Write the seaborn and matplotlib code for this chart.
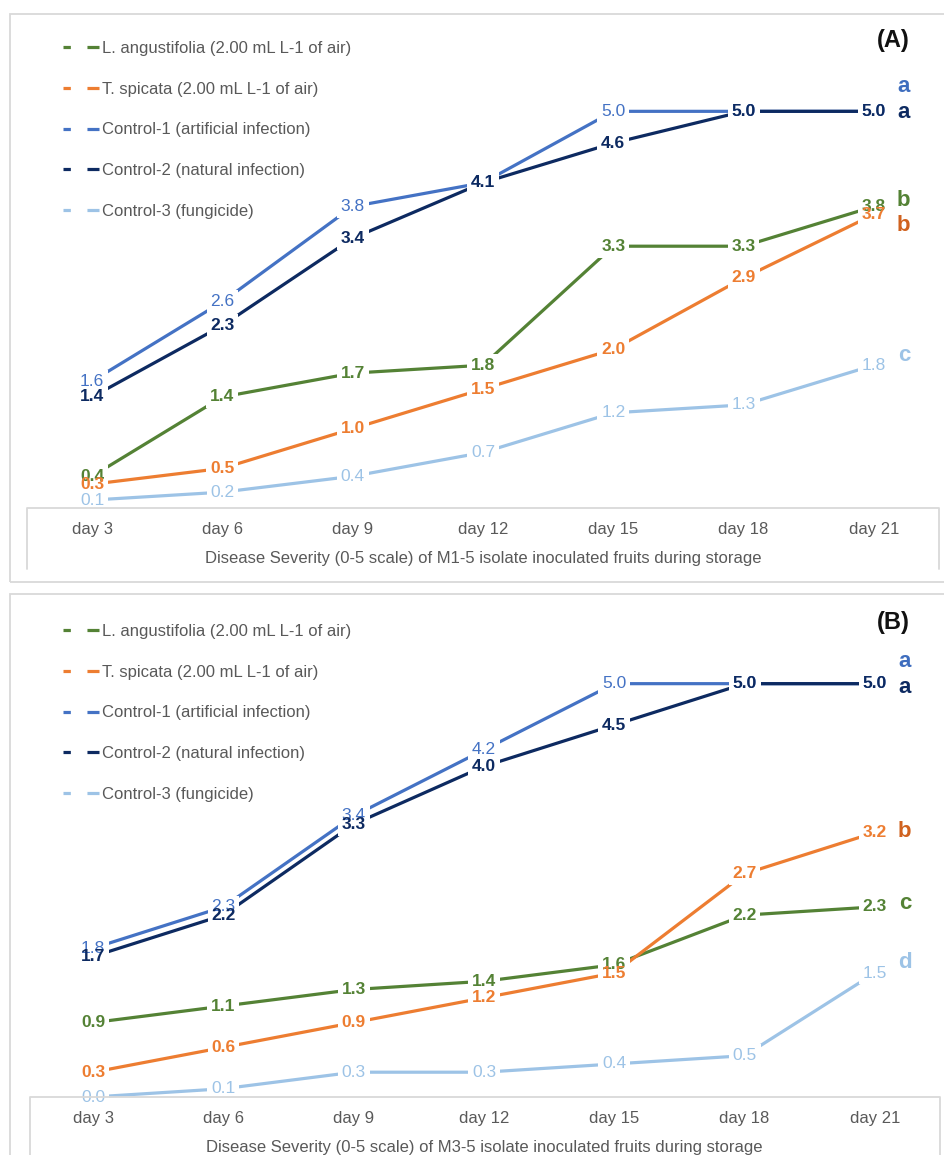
import matplotlib
matplotlib.use("Agg")
import matplotlib.pyplot as plt
from matplotlib.lines import Line2D
from matplotlib.patches import Rectangle
import numpy as np
import pandas as pd
import seaborn as sns

# ---- data -------------------------------------------------------------
days = ["day 3", "day 6", "day 9", "day 12", "day 15", "day 18", "day 21"]
treatments = [
    "L. angustifolia (2.00 mL L-1 of air)",
    "T. spicata (2.00 mL L-1 of air)",
    "Control-1 (artificial infection)",
    "Control-2 (natural infection)",
    "Control-3 (fungicide)",
]

# Panel A: M1-5 isolate
a_lavender = [0.4, 1.4, 1.7, 1.8, 3.3, 3.3, 3.8]
a_spicata = [0.3, 0.5, 1.0, 1.5, 2.0, 2.9, 3.7]
a_control1 = [1.6, 2.6, 3.8, 4.1, 5.0, 5.0, 5.0]
a_control2 = [1.4, 2.3, 3.4, 4.1, 4.6, 5.0, 5.0]
a_control3 = [0.1, 0.2, 0.4, 0.7, 1.2, 1.3, 1.8]
a_letters = ["b", "b", "a", "a", "c"]
a_letter_y = [3.87, 3.56, 5.31, 4.99, 1.92]

# Panel B: M3-5 isolate
b_lavender = [0.9, 1.1, 1.3, 1.4, 1.6, 2.2, 2.3]
b_spicata = [0.3, 0.6, 0.9, 1.2, 1.5, 2.7, 3.2]
b_control1 = [1.8, 2.3, 3.4, 4.2, 5.0, 5.0, 5.0]
b_control2 = [1.7, 2.2, 3.3, 4.0, 4.5, 5.0, 5.0]
b_control3 = [0.0, 0.1, 0.3, 0.3, 0.4, 0.5, 1.5]
b_letters = ["c", "b", "a", "a", "d"]
b_letter_y = [2.34, 3.21, 5.27, 4.95, 1.63]

xlabel_a = "Disease Severity (0-5 scale) of M1-5 isolate inoculated fruits during storage"
xlabel_b = "Disease Severity (0-5 scale) of M3-5 isolate inoculated fruits during storage"

# ---- style ------------------------------------------------------------
colors = ["#548235", "#ED7D31", "#4472C4", "#0D2A61", "#9DC3E6"]
letter_colors = ["#548235", "#D0621F", "#3E6DBE", "#0D2A61", "#9DC3E6"]
label_weights = ["bold", "bold", "normal", "bold", "normal"]
palette = dict(zip(treatments, colors))
grey_txt = "#595959"
frame_col = "#D9D9D9"
label_size = 12.5

sns.set_style("white")
plt.rcParams["font.family"] = ["Liberation Sans", "DejaVu Sans"]

W, H = 945, 1155
fig = plt.figure(figsize=(W / 100, H / 100), dpi=100)


def fx(px):
    return px / W


def fy(py):
    return 1 - py / H


def long_frame(series):
    rows = []
    for name, vals in zip(treatments, series):
        for d, v in zip(days, vals):
            rows.append({"day": d, "severity": v, "treatment": name})
    return pd.DataFrame(rows)


def fig_line(xs, ys):
    fig.add_artist(Line2D([fx(x) for x in xs], [fy(y) for y in ys],
                          transform=fig.transFigure, color=frame_col, lw=1.3))


def draw_panel(ax, series, letters, letter_y, xlabel, tag, tag_y, legend_top):
    df = long_frame(series)
    sns.lineplot(data=df, x="day", y="severity", hue="treatment",
                 hue_order=treatments, palette=palette, linewidth=2.3,
                 legend=False, sort=False, ax=ax)
    for ln in ax.lines:
        ln.set_clip_on(False)
        ln.set_solid_capstyle("butt")

    # white plates under every value label, then the labels themselves
    for vals in series:
        for i, v in enumerate(vals):
            ax.text(i, v, f"{v:.1f}", ha="center", va="center", fontsize=label_size,
                    color=(1, 1, 1, 0), zorder=5,
                    bbox=dict(boxstyle="square,pad=0.22", fc="white", ec="none"))
    for vals, c, w in zip(series, colors, label_weights):
        for i, v in enumerate(vals):
            ax.text(i, v, f"{v:.1f}", ha="center", va="center", fontsize=label_size,
                    color=c, fontweight=w, zorder=6)

    # significance letters at the right end
    for let, y, c in zip(letters, letter_y, letter_colors):
        ax.text(6.23, y, let, ha="center", va="center", fontsize=16,
                fontweight="bold", color=c, zorder=6)

    ax.set_xlim(-0.5, 6.5)
    ax.set_ylim(0, 6)
    ax.set_yticks([])
    ax.set_ylabel("")
    for s in ax.spines.values():
        s.set_visible(False)
    ax.tick_params(axis="x", length=0, pad=10, labelsize=12, labelcolor=grey_txt)
    ax.set_xlabel(xlabel, fontsize=12, color=grey_txt, labelpad=10.5)
    ax.patch.set_alpha(0)

    handles = [Line2D([], [], color=c, lw=2.3, dashes=(2.3, 5.2, 4.25, 20),
                      solid_capstyle="butt", dash_capstyle="butt")
               for c in colors]
    ax.legend(handles, treatments, loc="upper left",
              bbox_to_anchor=(fx(63), fy(legend_top)),
              bbox_transform=fig.transFigure, frameon=False, borderpad=0,
              borderaxespad=0, handlelength=2.16, handletextpad=0.18,
              labelspacing=1.54, fontsize=12, labelcolor=grey_txt)

    fig.text(fx(893), fy(tag_y), tag, ha="center", va="center", fontsize=17,
             fontweight="bold", color="#111111")


# ---- panel frames -----------------------------------------------------
fig.add_artist(Rectangle((fx(10), fy(582)), fx(960) - fx(10), (582 - 14) / H,
                         transform=fig.transFigure, fill=False, ec=frame_col, lw=1.3))
fig.add_artist(Rectangle((fx(10), fy(1170)), fx(960) - fx(10), (1170 - 594) / H,
                         transform=fig.transFigure, fill=False, ec=frame_col, lw=1.3))

# category-axis boxes
fig_line([27, 27, 939, 939], [569, 508, 508, 569])
fig_line([30, 30, 940, 940], [1160, 1097, 1097, 1160])

axA = fig.add_axes([fx(27), fy(508), (939 - 27) / W, (508 - 32) / H])
axB = fig.add_axes([fx(28), fy(1097), (940 - 28) / W, (1097 - 601) / H])

draw_panel(axA, [a_lavender, a_spicata, a_control1, a_control2, a_control3],
           a_letters, a_letter_y, xlabel_a, "(A)", 40, 41)
draw_panel(axB, [b_lavender, b_spicata, b_control1, b_control2, b_control3],
           b_letters, b_letter_y, xlabel_b, "(B)", 623, 624)

fig.savefig("out.png", dpi=100, facecolor="white")
